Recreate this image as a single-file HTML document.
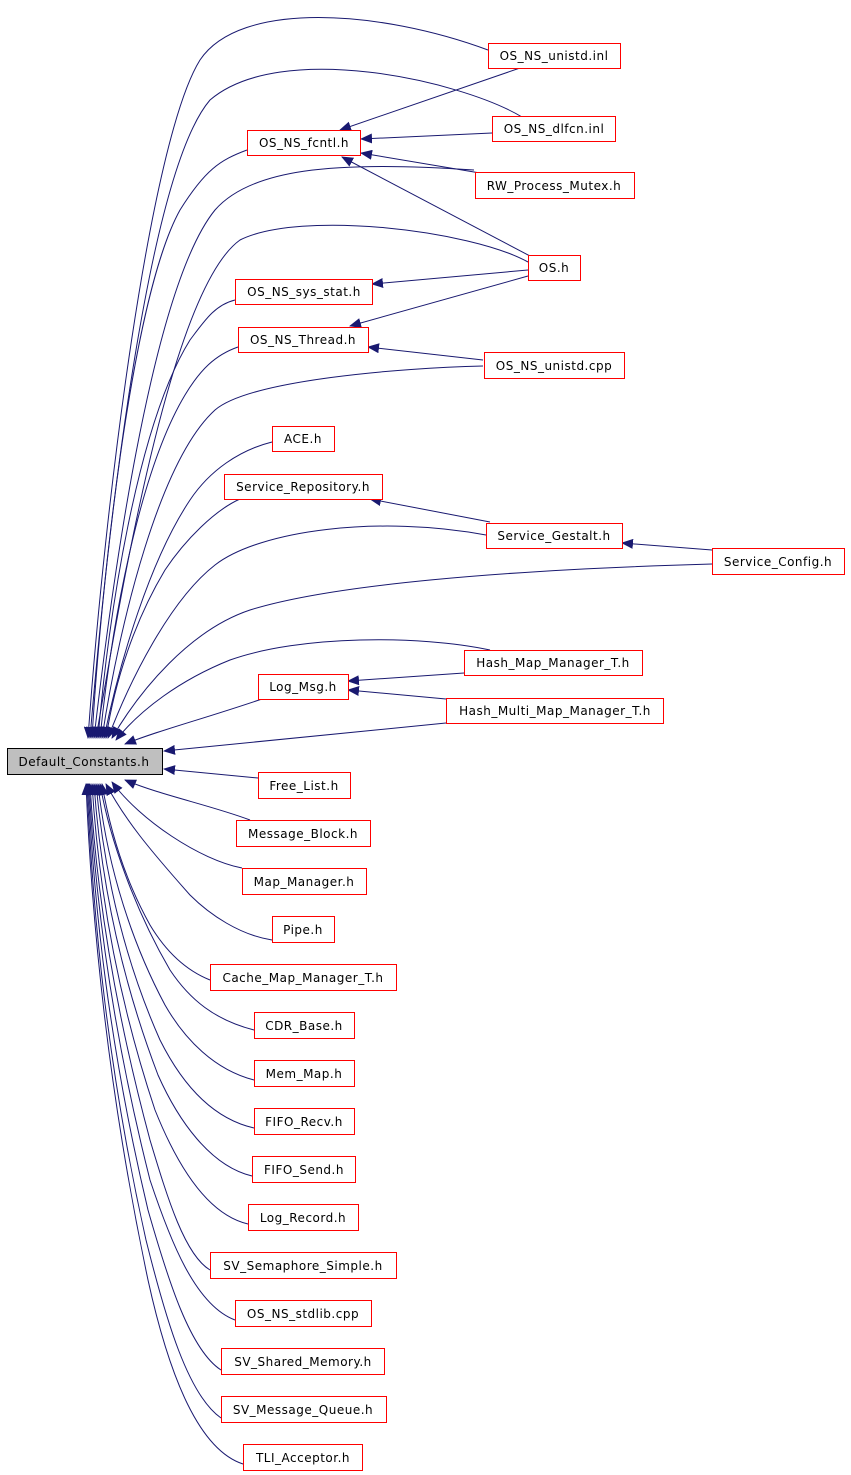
<!DOCTYPE html>
<html><head><meta charset="utf-8"><style>
html,body{margin:0;padding:0;background:#fff;}
svg{display:block;}
text{font-family:"DejaVu Sans","Liberation Sans",sans-serif;font-size:12px;letter-spacing:0.5px;fill:#000;}
.n{fill:#fff;stroke:#ff0000;stroke-width:1;}
.e{fill:none;stroke:#191970;stroke-width:1;}
</style></head><body>
<svg width="851" height="1475" viewBox="0 0 851 1475" xmlns="http://www.w3.org/2000/svg">
<defs>
<marker id="a" markerWidth="12" markerHeight="10" refX="11" refY="5" orient="auto" markerUnits="userSpaceOnUse">
<path d="M0,0 L12,5 L0,10 Z" fill="#191970"/>
</marker>
</defs>
<g class="e" marker-end="url(#a)">
<path d="M488,50 C380,10 240,0 200,60 C150,140 105,500 88,738"/>
<path d="M522,117 C460,80 280,40 210,100 C150,170 110,500 90,738"/>
<path d="M247,150 C220,160 205,170 180,210 C130,300 100,600 92,738"/>
<path d="M474,170 C330,160 250,170 215,210 C150,290 110,600 94,738"/>
<path d="M528,262 C470,230 300,210 240,240 C170,290 120,600 96,738"/>
<path d="M235,300 C215,305 205,320 190,340 C140,420 110,600 98,738"/>
<path d="M238,347 C215,355 200,370 185,395 C140,470 112,620 100,738"/>
<path d="M483,366 C400,368 250,380 215,410 C160,460 120,620 102,738"/>
<path d="M272,442 C240,450 210,470 190,500 C150,560 120,660 104,738"/>
<path d="M240,499 C215,510 185,540 165,570 C135,620 115,680 106,738"/>
<path d="M486,535 C380,515 260,530 215,565 C170,600 130,680 108,738"/>
<path d="M712,564 C500,570 330,585 250,610 C190,630 140,690 112,738"/>
<path d="M490,650 C420,635 300,635 230,660 C180,680 140,710 116,740"/>
<path d="M262,699 C200,720 160,730 125,744"/>
<path d="M446,723 L164,751"/>
<path d="M258,778 L164,769"/>
<path d="M250,820 C210,805 160,795 125,780"/>
<path d="M242,868 C200,860 140,820 112,782"/>
<path d="M272,940 C240,935 210,915 190,895 C150,850 125,820 106,784"/>
<path d="M210,980 C185,970 165,950 150,925 C125,880 110,830 102,784"/>
<path d="M254,1030 C215,1020 190,1000 170,970 C135,910 110,840 100,784"/>
<path d="M254,1080 C215,1070 185,1040 165,1005 C125,930 105,850 98,784"/>
<path d="M254,1128 C210,1118 180,1080 160,1040 C120,950 103,860 96,784"/>
<path d="M252,1176 C210,1166 178,1120 158,1075 C118,970 100,870 94,784"/>
<path d="M248,1224 C205,1214 175,1160 155,1110 C115,990 98,880 92,784"/>
<path d="M210,1270 C185,1255 168,1200 150,1140 C115,1010 96,890 90,784"/>
<path d="M235,1320 C195,1305 170,1240 150,1180 C112,1030 95,900 89,784"/>
<path d="M221,1370 C190,1350 168,1280 148,1210 C110,1050 94,910 88,784"/>
<path d="M221,1418 C188,1395 166,1320 146,1240 C108,1070 93,920 87,784"/>
<path d="M243,1464 C200,1450 170,1380 148,1280 C110,1100 92,930 86,784"/>
<path d="M520,68 L340,130"/>
<path d="M492,133 L361,139"/>
<path d="M480,173 L361,153"/>
<path d="M530,256 L342,157"/>
<path d="M528,270 L372,284"/>
<path d="M528,276 L350,326"/>
<path d="M483,360 L368,347"/>
<path d="M490,522 L370,499"/>
<path d="M712,550 L622,543"/>
<path d="M464,673 L348,681"/>
<path d="M446,699 L348,690"/>
</g>
<g>
<rect x="488.5" y="43.5" width="132" height="25" class="n"/><text x="554" y="60" text-anchor="middle">OS_NS_unistd.inl</text>
<rect x="247.5" y="130.5" width="113" height="25" class="n"/><text x="304" y="147" text-anchor="middle">OS_NS_fcntl.h</text>
<rect x="492.5" y="116.5" width="123" height="25" class="n"/><text x="554" y="133" text-anchor="middle">OS_NS_dlfcn.inl</text>
<rect x="475.5" y="172.5" width="159" height="26" class="n"/><text x="554" y="190" text-anchor="middle">RW_Process_Mutex.h</text>
<rect x="528.5" y="255.5" width="52" height="25" class="n"/><text x="554" y="272" text-anchor="middle">OS.h</text>
<rect x="235.5" y="279.5" width="137" height="25" class="n"/><text x="304" y="296" text-anchor="middle">OS_NS_sys_stat.h</text>
<rect x="238.5" y="327.5" width="130" height="25" class="n"/><text x="303" y="344" text-anchor="middle">OS_NS_Thread.h</text>
<rect x="484.5" y="352.5" width="140" height="26" class="n"/><text x="554" y="370" text-anchor="middle">OS_NS_unistd.cpp</text>
<rect x="272.5" y="426.5" width="62" height="25" class="n"/><text x="303" y="443" text-anchor="middle">ACE.h</text>
<rect x="224.5" y="474.5" width="158" height="25" class="n"/><text x="303" y="491" text-anchor="middle">Service_Repository.h</text>
<rect x="486.5" y="523.5" width="136" height="25" class="n"/><text x="554" y="540" text-anchor="middle">Service_Gestalt.h</text>
<rect x="712.5" y="548.5" width="132" height="26" class="n"/><text x="778" y="566" text-anchor="middle">Service_Config.h</text>
<rect x="464.5" y="650.5" width="178" height="25" class="n"/><text x="553" y="667" text-anchor="middle">Hash_Map_Manager_T.h</text>
<rect x="258.5" y="674.5" width="90" height="25" class="n"/><text x="303" y="691" text-anchor="middle">Log_Msg.h</text>
<rect x="446.5" y="698.5" width="217" height="25" class="n"/><text x="555" y="715" text-anchor="middle">Hash_Multi_Map_Manager_T.h</text>
<rect x="7.5" y="748.5" width="155" height="26" fill="#bfbfbf" stroke="#000"/><text x="84" y="766" text-anchor="middle">Default_Constants.h</text>
<rect x="258.5" y="772.5" width="92" height="26" class="n"/><text x="304" y="790" text-anchor="middle">Free_List.h</text>
<rect x="236.5" y="820.5" width="134" height="26" class="n"/><text x="303" y="838" text-anchor="middle">Message_Block.h</text>
<rect x="242.5" y="868.5" width="124" height="26" class="n"/><text x="304" y="886" text-anchor="middle">Map_Manager.h</text>
<rect x="272.5" y="916.5" width="62" height="26" class="n"/><text x="303" y="934" text-anchor="middle">Pipe.h</text>
<rect x="210.5" y="964.5" width="186" height="26" class="n"/><text x="303" y="982" text-anchor="middle">Cache_Map_Manager_T.h</text>
<rect x="254.5" y="1012.5" width="100" height="26" class="n"/><text x="304" y="1030" text-anchor="middle">CDR_Base.h</text>
<rect x="254.5" y="1060.5" width="100" height="26" class="n"/><text x="304" y="1078" text-anchor="middle">Mem_Map.h</text>
<rect x="254.5" y="1108.5" width="100" height="26" class="n"/><text x="304" y="1126" text-anchor="middle">FIFO_Recv.h</text>
<rect x="252.5" y="1156.5" width="103" height="26" class="n"/><text x="304" y="1174" text-anchor="middle">FIFO_Send.h</text>
<rect x="248.5" y="1204.5" width="110" height="26" class="n"/><text x="303" y="1222" text-anchor="middle">Log_Record.h</text>
<rect x="210.5" y="1252.5" width="186" height="26" class="n"/><text x="303" y="1270" text-anchor="middle">SV_Semaphore_Simple.h</text>
<rect x="235.5" y="1300.5" width="136" height="26" class="n"/><text x="303" y="1318" text-anchor="middle">OS_NS_stdlib.cpp</text>
<rect x="221.5" y="1348.5" width="163" height="26" class="n"/><text x="303" y="1366" text-anchor="middle">SV_Shared_Memory.h</text>
<rect x="221.5" y="1396.5" width="165" height="26" class="n"/><text x="303" y="1414" text-anchor="middle">SV_Message_Queue.h</text>
<rect x="243.5" y="1444.5" width="119" height="26" class="n"/><text x="303" y="1462" text-anchor="middle">TLI_Acceptor.h</text>
</g>
</svg>
</body></html>
